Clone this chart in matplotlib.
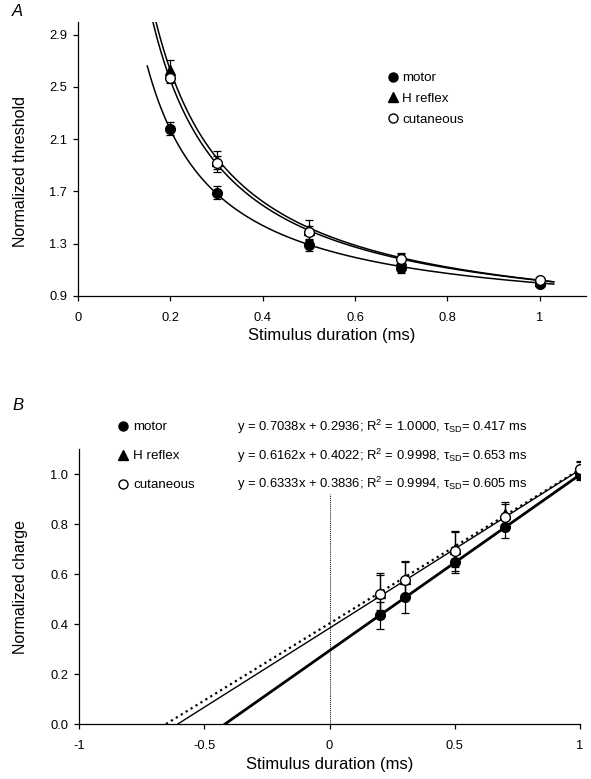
import numpy as np
import matplotlib
matplotlib.use("Agg")
import matplotlib.pyplot as plt
from matplotlib.lines import Line2D

plt.rcParams['font.family'] = ['Liberation Sans', 'DejaVu Sans']
plt.rcParams['mathtext.fontset'] = 'custom'
plt.rcParams['mathtext.rm'] = 'Liberation Sans'
plt.rcParams['mathtext.it'] = 'Liberation Sans:italic'

# ---------------- data ----------------
durations = [0.2, 0.3, 0.5, 0.7, 1.0]
series = ["motor", "H reflex", "cutaneous"]

# Panel A: normalized threshold
thr_motor = [2.18, 1.69, 1.285, 1.115, 0.99]
thr_motor_err = [0.05, 0.05, 0.04, 0.04, 0.02]
thr_h = [2.63, 1.93, 1.40, 1.17, 1.01]
thr_h_err = [0.08, 0.08, 0.08, 0.06, 0.02]
thr_cut = [2.57, 1.92, 1.385, 1.18, 1.02]
thr_cut_err = [0.04, 0.05, 0.05, 0.04, 0.02]

# Panel B: normalized charge
q_motor = [0.435, 0.507, 0.647, 0.789, 0.995]
q_motor_err = [0.054, 0.062, 0.043, 0.046, 0.02]
q_h = [0.525, 0.58, 0.70, 0.84, 1.02]
q_h_err = [0.07, 0.07, 0.07, 0.05, 0.03]
q_cut = [0.52, 0.576, 0.693, 0.829, 1.019]
q_cut_err = [0.084, 0.076, 0.08, 0.05, 0.034]

# linear fits (charge = slope * d + intercept)
slopes = [0.7038, 0.6162, 0.6333]
intercepts = [0.2936, 0.4022, 0.3836]
r2_text = ["1.0000", "0.9998", "0.9994"]
tau_text = ["0.417", "0.653", "0.605"]

a_xticks = [0, 0.2, 0.4, 0.6, 0.8, 1.0]
a_xticklabels = ["0", "0.2", "0.4", "0.6", "0.8", "1"]
a_yticks = [0.9, 1.3, 1.7, 2.1, 2.5, 2.9]
b_xticks = [-1, -0.5, 0, 0.5, 1]
b_xticklabels = ["-1", "-0.5", "0", "0.5", "1"]
b_yticks = [0.0, 0.2, 0.4, 0.6, 0.8, 1.0]

# ---------------- figure ----------------
W, H = 591, 779
fig = plt.figure(figsize=(W / 100, H / 100), dpi=100)

axA = fig.add_axes([0.1320, 0.6204, 0.8596, 0.3517])
axB = fig.add_axes([0.1337, 0.0706, 0.8477, 0.3530])

TICK_FS = 9.3
LEG_FS = 9.6
EQ_FS = 9.4
XLAB_FS = 12
YLAB_FS = 11.5
LW = 0.9

markers = ['o', '^', 'o']
faces = ['black', 'black', 'white']
msizes = [7, 7.5, 7]

for ax in (axA, axB):
    for s in ('top', 'right'):
        ax.spines[s].set_visible(False)
    for s in ('left', 'bottom'):
        ax.spines[s].set_linewidth(LW)
    ax.tick_params(direction='out', length=3.5, width=LW, labelsize=TICK_FS)
    ax.tick_params(axis='x', pad=8.3)
    ax.tick_params(axis='y', pad=4.3)

# ---- Panel A ----
dcurve = np.linspace(0.15, 1.03, 300)
for k in range(3):
    axA.plot(dcurve, slopes[k] + intercepts[k] / dcurve, color='black', lw=1.1, zorder=2)

thr_vals = [thr_motor, thr_h, thr_cut]
thr_errs = [thr_motor_err, thr_h_err, thr_cut_err]
handlesA = []
for k in range(3):
    axA.errorbar(durations, thr_vals[k], yerr=thr_errs[k], fmt='none', ecolor='black',
                 elinewidth=0.9, capsize=2.8, capthick=0.9, zorder=3)
    axA.plot(durations, thr_vals[k], linestyle='none', marker=markers[k], ms=msizes[k],
             mfc=faces[k], mec='black', mew=1.0, zorder=4 + k)
    handlesA.append(Line2D([], [], linestyle='none', marker=markers[k], ms=msizes[k] - 0.5,
                           mfc=faces[k], mec='black', mew=1.0))

axA.set_xlim(0, 1.1)
axA.set_ylim(0.9, 3.0)
axA.set_xticks(a_xticks)
axA.set_xticklabels(a_xticklabels)
axA.set_yticks(a_yticks)
axA.set_yticklabels([f"{v:.1f}" for v in a_yticks])
axA.set_xlabel("Stimulus duration (ms)", fontsize=XLAB_FS, labelpad=3)
axA.set_ylabel("Normalized threshold", fontsize=YLAB_FS)
axA.yaxis.set_label_coords(-0.098, 0.455)
axA.legend(handlesA, series, loc='upper left', bbox_to_anchor=(0.61, 0.816),
           frameon=False, fontsize=LEG_FS, handlelength=0.8, handletextpad=0.25,
           labelspacing=0.62, borderpad=0, borderaxespad=0)

fig.text(12 / W, 1 - 12 / H, "A", fontsize=12, fontstyle='italic', va='center', ha='left')

# ---- Panel B ----
q_vals = [q_motor, q_h, q_cut]
q_errs = [q_motor_err, q_h_err, q_cut_err]
line_styles = [dict(ls='-', lw=2.0), dict(ls=(0, (1.0, 1.6)), lw=1.6), dict(ls='-', lw=1.0)]
for k in range(3):
    x0 = -intercepts[k] / slopes[k]
    xs = np.array([x0, 1.0])
    axB.plot(xs, slopes[k] * xs + intercepts[k], color='black', zorder=2, **line_styles[k])

axB.plot([0, 0], [0, 0.92], color='black', lw=0.7, ls=(0, (1, 1)), zorder=1)

handlesB = []
order = [1, 0, 2]
for k in order:
    axB.errorbar(durations, q_vals[k], yerr=q_errs[k], fmt='none', ecolor='black',
                 elinewidth=0.9, capsize=3.0, capthick=0.9, zorder=3)
for k in order:
    axB.plot(durations, q_vals[k], linestyle='none', marker=markers[k], ms=msizes[k],
             mfc=faces[k], mec='black', mew=1.0, zorder=4 + k)
for k in range(3):
    handlesB.append(Line2D([], [], linestyle='none', marker=markers[k], ms=msizes[k] - 0.5,
                           mfc=faces[k], mec='black', mew=1.0))

axB.set_xlim(-1, 1)
axB.set_ylim(0, 1.1)
axB.set_xticks(b_xticks)
axB.set_xticklabels(b_xticklabels)
axB.set_yticks(b_yticks)
axB.set_yticklabels([f"{v:.1f}" for v in b_yticks])
axB.set_xlabel("Stimulus duration (ms)", fontsize=XLAB_FS, labelpad=3)
axB.set_ylabel("Normalized charge", fontsize=YLAB_FS)
axB.yaxis.set_label_coords(-0.102, 0.5)
axB.legend(handlesB, series, loc='upper left', bbox_to_anchor=(0.077, 1.102),
           frameon=False, fontsize=LEG_FS, handlelength=0.8, handletextpad=0.35,
           labelspacing=1.25, borderpad=0, borderaxespad=0)

row_y = [1.080, 0.975, 0.873]
for k in range(3):
    eq = (f"y = {slopes[k]:.4f}x + {intercepts[k]:.4f}; R$^{{\\rm 2}}$ = {r2_text[k]}, "
          f"\u03c4$_{{\\rm SD}}$= {tau_text[k]} ms")
    axB.text(0.315, row_y[k], eq, transform=axB.transAxes, fontsize=EQ_FS,
             ha='left', va='center')

fig.text(12 / W, 1 - 405 / H, "B", fontsize=12, fontstyle='italic', va='center', ha='left')

fig.savefig("out.png", dpi=100)
